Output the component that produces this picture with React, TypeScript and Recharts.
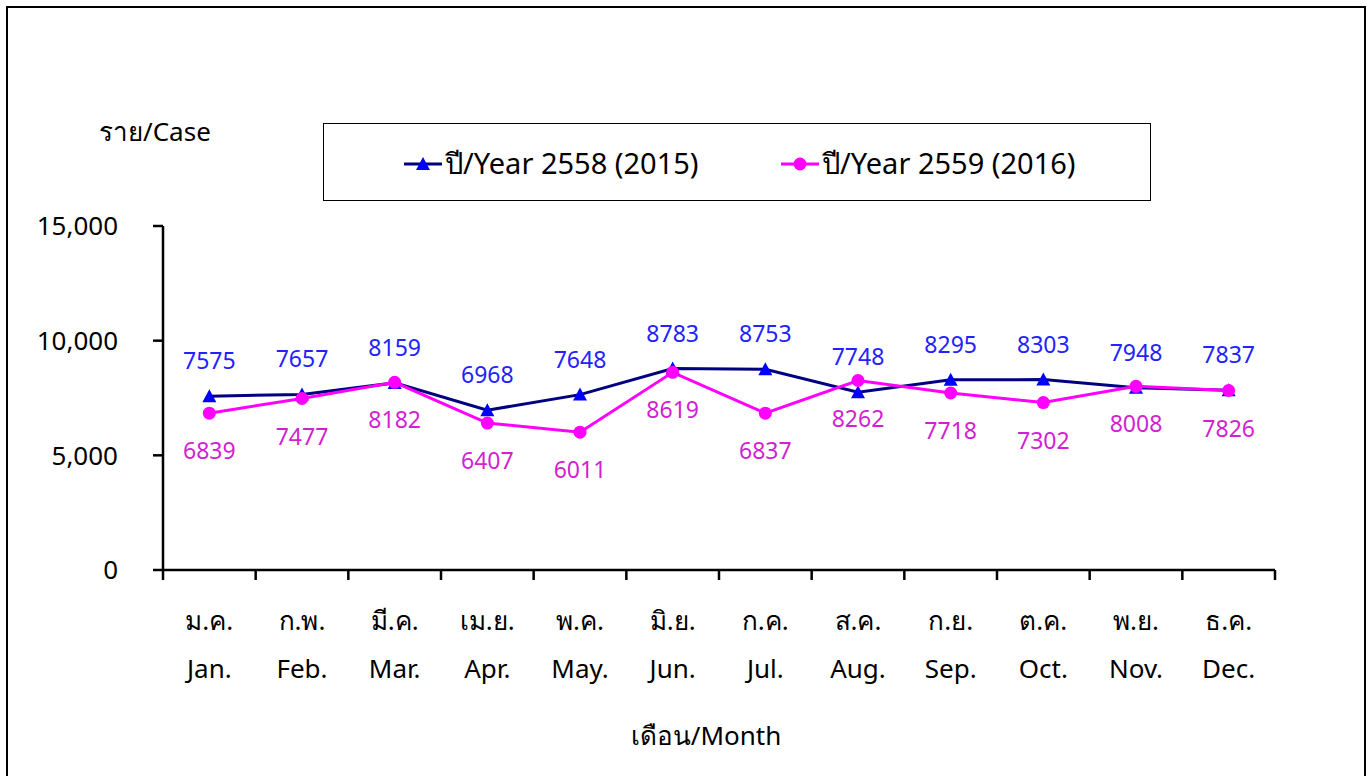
import { Line, LineChart, XAxis, YAxis, LabelList } from "recharts";

const thaiMonths = ["ม.ค.", "ก.พ.", "มี.ค.", "เม.ย.", "พ.ค.", "มิ.ย.", "ก.ค.", "ส.ค.", "ก.ย.", "ต.ค.", "พ.ย.", "ธ.ค."];
const engMonths = ["Jan.", "Feb.", "Mar.", "Apr.", "May.", "Jun.", "Jul.", "Aug.", "Sep.", "Oct.", "Nov.", "Dec."];
const cases2015 = [7575, 7657, 8159, 6968, 7648, 8783, 8753, 7748, 8295, 8303, 7948, 7837];
const cases2016 = [6839, 7477, 8182, 6407, 6011, 8619, 6837, 8262, 7718, 7302, 8008, 7826];
const yTicks = [0, 5000, 10000, 15000];
const series2015 = "ปี/Year 2558 (2015)";
const series2016 = "ปี/Year 2559 (2016)";

const data = engMonths.map((m, i) => ({
  pos: i + 0.5,
  month: m,
  y2015: cases2015[i],
  y2016: cases2016[i],
}));

const FONT = "'Noto Sans', 'Open Sans', sans-serif";
const PLOT_LEFT = 163;
const PLOT_RIGHT = 1275;
const BAND = (PLOT_RIGHT - PLOT_LEFT) / engMonths.length;

const MonthTick = (props: any) => {
  const { x, y, index } = props;
  if (index >= engMonths.length) return null;
  const cx = x + BAND / 2;
  return (
    <g>
      <text x={cx} y={y + 38} textAnchor="middle" dominantBaseline="central" fontSize={26} fill="#000" fontFamily={FONT}>
        {thaiMonths[index]}
      </text>
      <text x={cx} y={y + 86} textAnchor="middle" dominantBaseline="central" fontSize={26} fill="#000" fontFamily={FONT}>
        {engMonths[index]}
      </text>
    </g>
  );
};

const Triangle = (props: any) => {
  const { cx, cy } = props;
  if (cx == null || cy == null) return null;
  return <path d={`M${cx},${cy - 7} L${cx + 7},${cy + 6} L${cx - 7},${cy + 6} Z`} fill="#0000FF" />;
};

const Dot = (props: any) => {
  const { cx, cy } = props;
  if (cx == null || cy == null) return null;
  return <circle cx={cx} cy={cy} r={6.5} fill="#FF00FF" />;
};

const topLabel = (props: any) => (
  <text x={props.x} y={props.y - 36} textAnchor="middle" dominantBaseline="central" fontSize={23} fill="#2222FF" fontFamily={FONT}>
    {props.value}
  </text>
);

const bottomLabel = (props: any) => (
  <text x={props.x} y={props.y + 37} textAnchor="middle" dominantBaseline="central" fontSize={23} fill="#D21FD2" fontFamily={FONT}>
    {props.value}
  </text>
);

const LegendBox = () => (
  <div
    style={{
      boxSizing: "border-box",
      position: "absolute",
      left: 323,
      top: 123,
      width: 828,
      height: 78,
      border: "1.5px solid #000",
      background: "#fff",
      fontFamily: FONT,
      fontSize: 29,
      color: "#000",
    }}
  >
    <svg width={828} height={78} style={{ position: "absolute", left: 0, top: 0 }}>
      <line x1={80} x2={118} y1={40} y2={40} stroke="#000080" strokeWidth={3} />
      <path d="M99,33 L106,46 L92,46 Z" fill="#0000FF" />
      <line x1={457} x2={495} y1={40} y2={40} stroke="#FF00FF" strokeWidth={3} />
      <circle cx={476} cy={40} r={6.5} fill="#FF00FF" />
    </svg>
    <span style={{ position: "absolute", left: 121, top: 19, lineHeight: "40px" }}>{series2015}</span>
    <span style={{ position: "absolute", left: 498, top: 19, lineHeight: "40px" }}>{series2016}</span>
  </div>
);

export default function App() {
  return (
    <div style={{ position: "absolute", left: 0, top: 0, width: 1372, height: 776, overflow: "hidden", background: "#fff", fontFamily: FONT }}>
      <div style={{ position: "absolute", left: 6, top: 6, width: 1356, height: 820, border: "2px solid #000" }} />
      <div style={{ position: "absolute", left: 99, top: 113, fontSize: 26, lineHeight: "36px" }}>ราย/Case</div>
      <div style={{ position: "absolute", left: 0, top: 717, width: 1412, textAlign: "center", fontSize: 26, lineHeight: "36px" }}>
        เดือน/Month
      </div>
      <LegendBox />
      <div style={{ position: "absolute", left: 0, top: 0 }}>
        <LineChart
          width={1372}
          height={776}
          data={data}
          margin={{ top: 226, right: 1372 - PLOT_RIGHT, bottom: 56, left: PLOT_LEFT - 60 }}
        >
          <XAxis
            type="number"
            dataKey="pos"
            domain={[0, engMonths.length]}
            ticks={engMonths.map((_, i) => i).concat([engMonths.length])}
            interval={0}
            height={150}
            axisLine={{ stroke: "#000", strokeWidth: 2.5 }}
            tickLine={{ stroke: "#000", strokeWidth: 2.5 }}
            tickSize={10}
            tick={<MonthTick />}
          />
          <YAxis
            width={60}
            domain={[0, 15000]}
            ticks={yTicks}
            interval={0}
            axisLine={{ stroke: "#000", strokeWidth: 2.5 }}
            tickLine={{ stroke: "#000", strokeWidth: 2.5 }}
            tickSize={10}
            tickMargin={35}
            tick={{ fill: "#000", fontSize: 26, fontFamily: FONT }}
            tickFormatter={(v: number) => v.toLocaleString("en-US")}
          />
          <Line
            type="linear"
            dataKey="y2015"
            name={series2015}
            stroke="#000080"
            strokeWidth={3}
            dot={<Triangle />}
            activeDot={false}
            isAnimationActive={false}
          >
            <LabelList dataKey="y2015" content={topLabel} />
          </Line>
          <Line
            type="linear"
            dataKey="y2016"
            name={series2016}
            stroke="#FF00FF"
            strokeWidth={3}
            dot={<Dot />}
            activeDot={false}
            isAnimationActive={false}
          >
            <LabelList dataKey="y2016" content={bottomLabel} />
          </Line>
        </LineChart>
      </div>
    </div>
  );
}
